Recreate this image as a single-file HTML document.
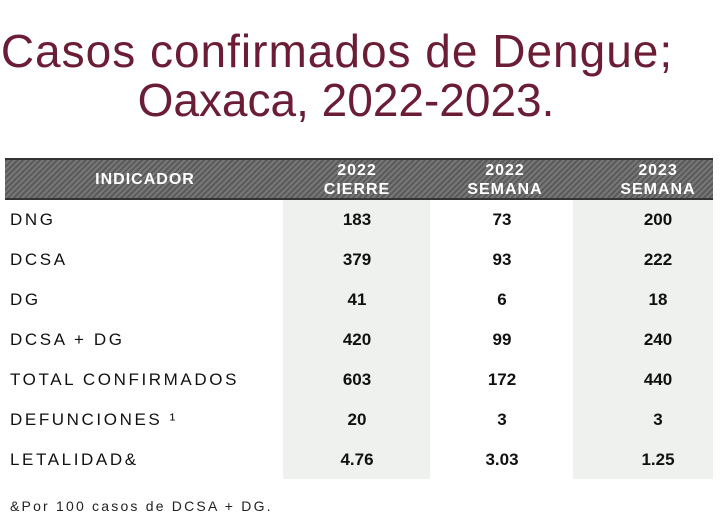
<!DOCTYPE html>
<html><head><meta charset="utf-8"><style>
body{margin:0;width:720px;height:532px;background:#fff;position:relative;overflow:hidden;font-family:"Liberation Sans",sans-serif}
.t{position:absolute;left:0;width:720px;color:#6b1d35;font-size:46px;line-height:46px;text-align:center;font-family:"Liberation Sans",sans-serif;letter-spacing:1px}
#hdr{position:absolute;left:5px;top:158px;width:708px;height:42px;background:repeating-linear-gradient(135deg,#5a5a5a 0 2px,#777 2px 4px);border-top:2px solid #333;border-bottom:2px solid #333;box-sizing:border-box}
.h{position:absolute;color:#fff;font-weight:bold;font-size:16px;text-align:center;line-height:19px;letter-spacing:1px}
.shade{position:absolute;top:200px;height:279px;background:#eef1ee}
.lab{position:absolute;left:10px;font-size:17px;letter-spacing:2.6px;color:#111}
.val{position:absolute;font-weight:bold;font-size:17px;text-align:center;width:120px;color:#111}
</style></head><body>
<div class="t" style="top:28px;left:-23px">Casos confirmados de Dengue;</div>
<div class="t" style="top:77px;left:-14px;letter-spacing:0">Oaxaca, 2022-2023.</div>
<div id="hdr">
<div class="h" style="left:40px;width:200px;top:10px">INDICADOR</div>
<div class="h" style="left:292px;width:120px;top:1px">2022<br>CIERRE</div>
<div class="h" style="left:440px;width:120px;top:1px">2022<br>SEMANA</div>
<div class="h" style="left:593px;width:120px;top:1px">2023<br>SEMANA</div>
</div>
<div class="shade" style="left:283px;width:147px"></div>
<div class="shade" style="left:573px;width:140px"></div>
<div id="rows"></div>
<div style="position:absolute;left:10px;top:498px;font-size:14px;letter-spacing:2.2px;color:#222">&amp;Por 100 casos de DCSA + DG.</div>
<script>
const labels=["DNG","DCSA","DG","DCSA + DG","TOTAL CONFIRMADOS","DEFUNCIONES ¹","LETALIDAD&"];
const cierre2022=["183","379","41","420","603","20","4.76"];
const semana2022=["73","93","6","99","172","3","3.03"];
const semana2023=["200","222","18","240","440","3","1.25"];
const rows=document.getElementById('rows');
const cx=[357,502,658];
labels.forEach((l,i)=>{
 const y=210+i*40;
 const d=document.createElement('div');d.className='lab';d.style.top=y+'px';d.textContent=l;
 
 
 rows.appendChild(d);
 [cierre2022,semana2022,semana2023].forEach((s,j)=>{
  const v=document.createElement('div');v.className='val';v.style.top=y+'px';v.style.left=(cx[j]-60)+'px';v.textContent=s[i];
  
  
  rows.appendChild(v);
 });
});
</script>
</body></html>
